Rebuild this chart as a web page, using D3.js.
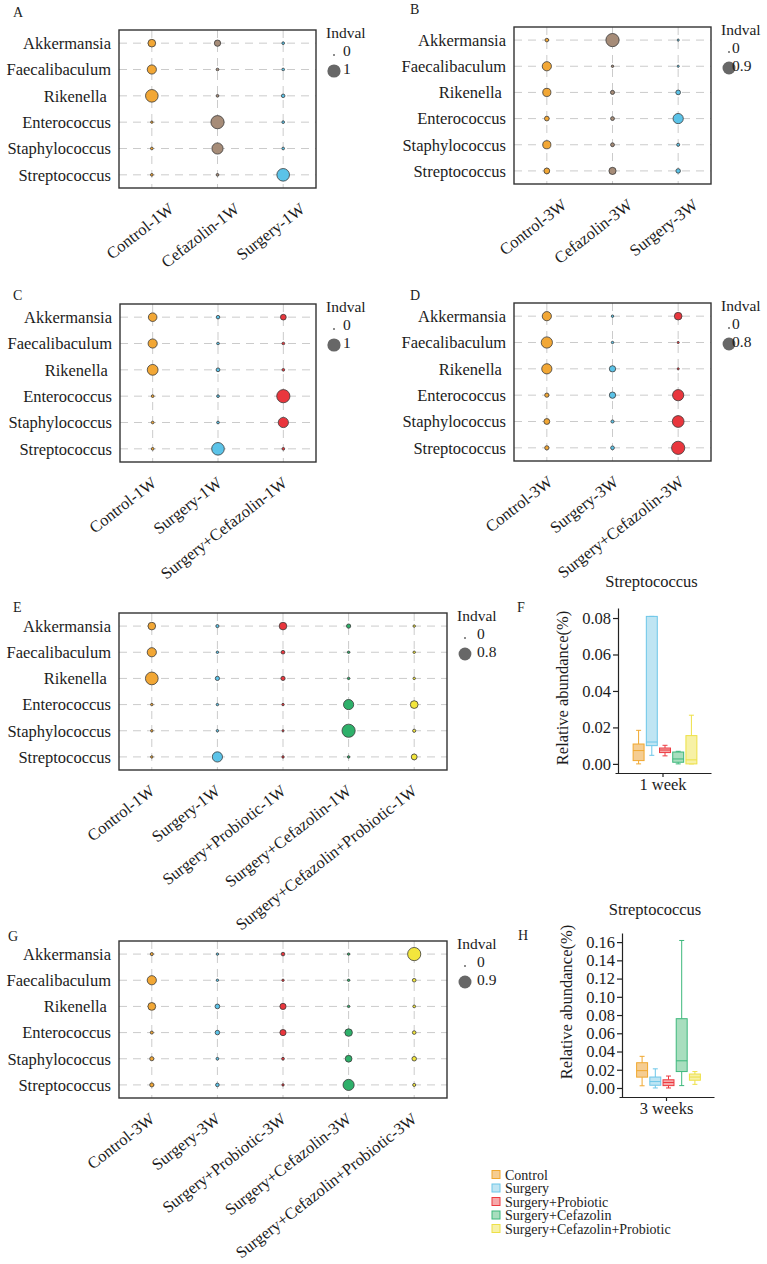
<!DOCTYPE html>
<html>
<head>
<meta charset="utf-8">
<script src="https://cdn.jsdelivr.net/npm/d3@7"></script>
<style>
  body { margin: 0; background: #fff; }
  svg text { font-family: "Liberation Serif", "Times New Roman", serif; fill: #1c1c1c; }
</style>
</head>
<body>
<svg id="fig" width="767" height="1264"></svg>
<script>
const genera = ["Akkermansia", "Faecalibaculum", "Rikenella ", "Enterococcus", "Staphylococcus", "Streptococcus"];

// indval per group (rows follow genera)
const groupsA = ["Control-1W", "Cefazolin-1W", "Surgery-1W"];
const indvalA = [
  [0.32, 0.47, 0.91, 0.01, 0.02, 0.02],
  [0.21, 0.02, 0.02, 1.00, 0.71, 0.02],
  [0.02, 0.02, 0.05, 0.02, 0.02, 0.91]
];
const breaksA = [0, 1];

const groupsB = ["Control-3W", "Cefazolin-3W", "Surgery-3W"];
const indvalB = [
  [0.05, 0.44, 0.34, 0.10, 0.34, 0.16],
  [0.93, 0.01, 0.07, 0.06, 0.06, 0.26],
  [0.005, 0.005, 0.10, 0.55, 0.03, 0.09]
];
const breaksB = [0, 0.9];

const groupsC = ["Control-1W", "Surgery-1W", "Surgery+Cefazolin-1W"];
const indvalC = [
  [0.41, 0.47, 0.66, 0.02, 0.02, 0.02],
  [0.05, 0.02, 0.06, 0.02, 0.02, 0.91],
  [0.17, 0.02, 0.02, 1.00, 0.59, 0.02]
];
const breaksC = [0, 1];

const groupsD = ["Control-3W", "Surgery-3W", "Surgery+Cefazolin-3W"];
const indvalD = [
  [0.40, 0.61, 0.50, 0.07, 0.15, 0.07],
  [0.01, 0.01, 0.18, 0.18, 0.03, 0.05],
  [0.27, 0.005, 0.005, 0.61, 0.67, 0.85]
];
const breaksD = [0, 0.8];

const groupsE = ["Control-1W", "Surgery-1W", "Surgery+Probiotic-1W", "Surgery+Cefazolin-1W", "Surgery+Cefazolin+Probiotic-1W"];
const indvalE = [
  [0.27, 0.40, 0.79, 0.01, 0.01, 0.01],
  [0.03, 0.01, 0.07, 0.01, 0.01, 0.50],
  [0.27, 0.05, 0.07, 0.01, 0.005, 0.01],
  [0.07, 0.01, 0.01, 0.50, 0.85, 0.01],
  [0.01, 0.01, 0.01, 0.28, 0.03, 0.15]
];
const breaksE = [0, 0.8];

const groupsG = ["Control-3W", "Surgery-3W", "Surgery+Probiotic-3W", "Surgery+Cefazolin-3W", "Surgery+Cefazolin+Probiotic-3W"];
const indvalG = [
  [0.03, 0.44, 0.31, 0.03, 0.07, 0.07],
  [0.01, 0.01, 0.10, 0.09, 0.02, 0.05],
  [0.05, 0.01, 0.19, 0.19, 0.02, 0.01],
  [0.01, 0.01, 0.01, 0.29, 0.23, 0.66],
  [0.93, 0.05, 0.02, 0.05, 0.09, 0.03]
];
const breaksG = [0, 0.9];

// Streptococcus relative abundance: [min, q1, median, q3, max]
const boxGroups = ["Control", "Surgery", "Surgery+Probiotic", "Surgery+Cefazolin", "Surgery+Cefazolin+Probiotic"];
const strep1W = [
  [0.0000, 0.0018, 0.0073, 0.0109, 0.0184],
  [0.0047, 0.0100, 0.0120, 0.0809, 0.0809],
  [0.0044, 0.0062, 0.0076, 0.0087, 0.0102],
  [0.0000, 0.0009, 0.0027, 0.0065, 0.0069],
  [0.0000, 0.0000, 0.0022, 0.0155, 0.0267]
];
const strep3W = [
  [0.0024, 0.0119, 0.0190, 0.0277, 0.0347],
  [0.0000, 0.0030, 0.0070, 0.0120, 0.0210],
  [0.0000, 0.0026, 0.0060, 0.0090, 0.0131],
  [0.0026, 0.0180, 0.0298, 0.0760, 0.1618],
  [0.0040, 0.0085, 0.0120, 0.0153, 0.0180]
];
const ticks1W = [0, 0.02, 0.04, 0.06, 0.08];
const ticks3W = [0, 0.02, 0.04, 0.06, 0.08, 0.10, 0.12, 0.14, 0.16];

const cControl = "#F2A735", cCef = "#A68C78", cSurg = "#5BC3E8",
      cRed = "#E9363D", cGreen = "#2EB06A", cYellow = "#F3E63C";
const boxStroke = ["#F0A830", "#6CC6E8", "#EC3A40", "#3DB87C", "#EDE046"];
const boxFill = ["#F5CD92", "#BFE5F3", "#F6A8AA", "#A8DEBE", "#F7F1A6"];

const svg = d3.select("#fig");
const font = 16.5;

function dotPanel(p) {
  const g = svg.append("g").attr("transform", `translate(${p.x},${p.y})`);
  const x = d3.scalePoint().domain(p.groups).range([0, p.w]).padding(0.5);
  const y = d3.scalePoint().domain(genera).range([0, p.h]).padding(0.5);
  const vmax = d3.max(p.values.flat());
  const area = d3.scaleLinear().domain([0, vmax]).range([1, 6.6 * 6.6]);
  const r = v => Math.sqrt(area(v));

  g.append("g").selectAll("line").data(genera).join("line")
    .attr("x1", 0).attr("x2", p.w)
    .attr("y1", d => y(d)).attr("y2", d => y(d))
    .attr("stroke", "#cbcbcb").attr("stroke-dasharray", "8,6");
  g.append("g").selectAll("line").data(p.groups).join("line")
    .attr("y1", 0).attr("y2", p.h)
    .attr("x1", d => x(d)).attr("x2", d => x(d))
    .attr("stroke", "#cbcbcb").attr("stroke-dasharray", "8,6");

  const cells = p.groups.flatMap((grp, i) =>
    genera.map((gen, j) => ({ grp, gen, v: p.values[i][j], c: p.colors[i] })));
  g.append("g").selectAll("circle").data(cells).join("circle")
    .attr("cx", d => x(d.grp)).attr("cy", d => y(d.gen))
    .attr("r", d => r(d.v))
    .attr("fill", d => d.c)
    .attr("stroke", "#3a3a3a").attr("stroke-width", 0.8);

  g.append("rect").attr("width", p.w).attr("height", p.h)
    .attr("fill", "none").attr("stroke", "#333").attr("stroke-width", 1.4);

  g.append("g").selectAll("text").data(genera).join("text")
    .attr("x", -8).attr("y", d => y(d)).attr("dy", "0.35em")
    .attr("text-anchor", "end").attr("font-size", font)
    .style("white-space", "pre")
    .text(d => d);

  g.append("g").selectAll("text").data(p.groups).join("text")
    .attr("transform", d => `translate(${x(d) + p.labelDx},${p.h + 14}) rotate(-38)`)
    .attr("text-anchor", "end").attr("dy", "0.68em").attr("font-size", font)
    .text(d => d);

  const lg = g.append("g").attr("transform", `translate(${p.w + 10},0)`);
  lg.append("text").attr("y", 8).attr("font-size", 15.5).text("Indval");
  lg.selectAll("circle").data(p.breaks).join("circle")
    .attr("cx", 8).attr("cy", (d, i) => i ? 41 : 25)
    .attr("r", d => r(d)).attr("fill", "#676767");
  lg.selectAll("text.lab").data(p.breaks).join("text")
    .attr("class", "lab")
    .attr("x", p.legendDx).attr("y", (d, i) => i ? 44 : 26)
    .attr("font-size", 15.5)
    .text(d => d);

  svg.append("text").attr("x", p.lx).attr("y", p.ly).attr("font-size", 14).text(p.letter);
}

function boxPanel(p) {
  const y = d3.scaleLinear().domain(p.yDomain).range([p.bottom, p.top]);
  const x = d3.scaleBand().domain([p.week]).range([p.x0, p.x1]);
  const cx = x(p.week) + x.bandwidth() / 2;
  const sub = d3.scaleBand().domain(boxGroups).range([cx - 31, cx + 35])
    .paddingInner(0.17).paddingOuter(0.085);

  const ya = svg.append("g").attr("transform", `translate(${p.axisX},0)`)
    .call(d3.axisLeft(y).tickValues(p.ticks).tickFormat(d3.format(".2f"))
      .tickSize(5).tickSizeOuter(0).tickPadding(2));
  const xa = svg.append("g").attr("transform", `translate(0,${p.bottom})`)
    .call(d3.axisBottom(x).tickSize(4).tickSizeOuter(0).tickPadding(1));
  [ya, xa].forEach(a => {
    a.attr("font-size", font);
    a.selectAll("path, line").attr("stroke", "#222").attr("stroke-width", 1.2);
  });

  const bw = sub.bandwidth();
  const boxes = svg.append("g").selectAll("g").data(p.stats).join("g");
  boxes.each(function (s, i) {
    const b = d3.select(this);
    const x0 = sub(boxGroups[i]), mid = x0 + bw / 2;
    const [mn, q1, med, q3, mx] = s;
    b.append("line").attr("x1", mid).attr("x2", mid).attr("y1", y(mx)).attr("y2", y(q3));
    b.append("line").attr("x1", mid).attr("x2", mid).attr("y1", y(q1)).attr("y2", y(mn));
    b.append("line").attr("x1", mid - 2.5).attr("x2", mid + 2.5).attr("y1", y(mx)).attr("y2", y(mx));
    b.append("line").attr("x1", mid - 2.5).attr("x2", mid + 2.5).attr("y1", y(mn)).attr("y2", y(mn));
    b.append("rect").attr("x", x0).attr("width", bw)
      .attr("y", y(q3)).attr("height", y(q1) - y(q3))
      .attr("fill", boxFill[i]);
    b.append("line").attr("x1", x0).attr("x2", x0 + bw).attr("y1", y(med)).attr("y2", y(med));
    b.selectAll("line, rect").attr("stroke", boxStroke[i]).attr("stroke-width", 1);
  });

  svg.append("text").attr("x", p.titleX).attr("y", p.titleY)
    .attr("text-anchor", "middle").attr("font-size", font).text("Streptococcus");
  svg.append("text")
    .attr("transform", `translate(${p.labX},${p.labY}) rotate(-90)`)
    .attr("text-anchor", "middle").attr("font-size", font)
    .text("Relative abundance(%)");
  svg.append("text").attr("x", p.lx).attr("y", p.ly).attr("font-size", 14).text(p.letter);
}

dotPanel({ letter: "A", lx: 13, ly: 17, x: 119, y: 30, w: 197, h: 158,
  groups: groupsA, values: indvalA, breaks: breaksA,
  colors: [cControl, cCef, cSurg], labelDx: 16, legendDx: 17 });
dotPanel({ letter: "B", lx: 410, ly: 14, x: 514, y: 27, w: 197, h: 157,
  groups: groupsB, values: indvalB, breaks: breaksB,
  colors: [cControl, cCef, cSurg], labelDx: 14, legendDx: 11 });
dotPanel({ letter: "C", lx: 13, ly: 300, x: 120, y: 304, w: 196, h: 158,
  groups: groupsC, values: indvalC, breaks: breaksC,
  colors: [cControl, cSurg, cRed], labelDx: -2, legendDx: 17 });
dotPanel({ letter: "D", lx: 410, ly: 300, x: 514, y: 303, w: 197, h: 158,
  groups: groupsD, values: indvalD, breaks: breaksD,
  colors: [cControl, cSurg, cRed], labelDx: 0, legendDx: 11 });
dotPanel({ letter: "E", lx: 13, ly: 612, x: 119, y: 613, w: 328, h: 157,
  groups: groupsE, values: indvalE, breaks: breaksE,
  colors: [cControl, cSurg, cRed, cGreen, cYellow], labelDx: -3, legendDx: 20 });
dotPanel({ letter: "G", lx: 8, ly: 941, x: 119, y: 941, w: 328, h: 157,
  groups: groupsG, values: indvalG, breaks: breaksG,
  colors: [cControl, cSurg, cRed, cGreen, cYellow], labelDx: -3, legendDx: 20 });

boxPanel({ letter: "F", lx: 517, ly: 612, stats: strep1W, week: "1 week",
  axisX: 618, top: 608, bottom: 773, yDomain: [-0.005, 0.0855], ticks: ticks1W,
  x0: 615, x1: 711, titleX: 651.5, titleY: 587, labX: 568, labY: 688 });
boxPanel({ letter: "H", lx: 518, ly: 940, stats: strep3W, week: "3 weeks",
  axisX: 622, top: 933, bottom: 1097, yDomain: [-0.0099, 0.17], ticks: ticks3W,
  x0: 619, x1: 714, titleX: 655, titleY: 915, labX: 572, labY: 1002 });

const legend = svg.append("g").attr("transform", "translate(492,1169)");
const ly = d3.scaleBand().domain(boxGroups).range([0, 67.5]);
legend.selectAll("rect").data(boxGroups).join("rect")
  .attr("y", d => ly(d) + 1.5).attr("width", 8).attr("height", 8)
  .attr("fill", (d, i) => boxFill[i]).attr("stroke", (d, i) => boxStroke[i]);
legend.selectAll("text").data(boxGroups).join("text")
  .attr("x", 13).attr("y", d => ly(d) + 10.5)
  .attr("font-size", 14)
  .text(d => d);
</script>
</body>
</html>
